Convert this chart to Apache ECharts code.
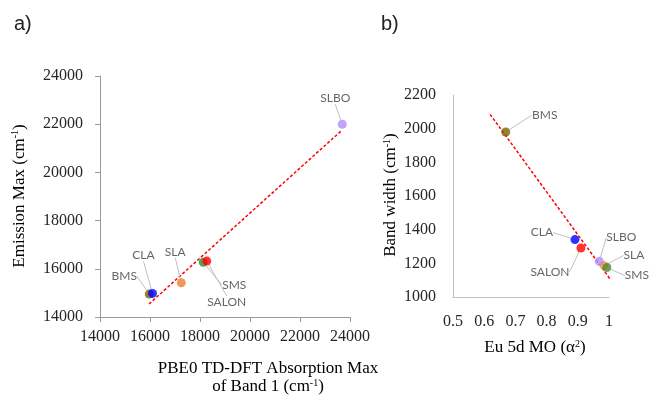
<!DOCTYPE html>
<html>
<head>
<meta charset="utf-8">
<script src="https://cdn.jsdelivr.net/npm/echarts@6/dist/echarts.min.js"></script>
<style>html,body{margin:0;padding:0;background:#fff;}#c{width:649px;height:395px;}</style>
</head>
<body>
<div id="c"></div>
<script>
// ---- data ----
const NAMES = ['BMS', 'CLA', 'SLA', 'SMS', 'SALON', 'SLBO'];
// panel a
const ABS_X = [15970, 16100, 17250, 18130, 18270, 23690];
const EMI_Y = [14950, 14980, 15420, 16270, 16320, 22000];
const TREND_A_X = [15960, 23690];
const TREND_A_Y = [14540, 21760];
// panel b
const MO_X = [0.669, 0.891, 0.984, 0.993, 0.910, 0.969];
const BW_Y = [1980, 1341, 1187, 1175, 1291, 1212];
const TREND_B_X = [0.619, 1.003];
const TREND_B_Y = [2085, 1108];
// tick values
const A_TICKS = [14000, 16000, 18000, 20000, 22000, 24000];
const B_X_TICKS = [0.5, 0.6, 0.7, 0.8, 0.9, 1];
const B_Y_TICKS = [1000, 1200, 1400, 1600, 1800, 2000, 2200];

// ---- styles ----
const COLORS_A = {BMS:'#7f6000', CLA:'#0000ff', SLA:'#ed7d31', SMS:'#2e8b2e', SALON:'#ff0000', SLBO:'#b18cf8'};
const COLORS_B = {BMS:'#7f6000', CLA:'#0000ff', SLA:'#f2a32a', SMS:'#548235', SALON:'#ff0000', SLBO:'#b18cf8'};
const OFF_A = {BMS:[-25,-18], CLA:[-9,-38], SLA:[-6,-31], SMS:[31,23], SALON:[20,41], SLBO:[-7,-26]};
const OFF_B = {BMS:[39,-17], CLA:[-33,-7], SLA:[30,-10], SMS:[30,8], SALON:[-31,24], SLBO:[22,-24]};

const serif = 'Liberation Serif, Times New Roman, serif';
const sans = 'Lato, Liberation Sans, sans-serif';
const txt = '#262626';

function pts(xs, ys, colors) {
  return NAMES.map((n, i) => ({name: n, value: [xs[i], ys[i]], itemStyle: {color: colors[n]}}));
}
function trend(xs, ys) { return xs.map((x, i) => [x, ys[i]]); }

const chart = echarts.init(document.getElementById('c'), null, {renderer: 'canvas'});

const axisLabelStyle = {fontFamily: serif, fontSize: 16, color: txt};

const option = {
  animation: false,
  grid: [
    {left: 100, top: 76, width: 250, height: 241},
    {left: 453, top: 95, width: 156, height: 202}
  ],
  xAxis: [
    {gridIndex: 0, type: 'value', min: A_TICKS[0], max: A_TICKS[A_TICKS.length-1], interval: 2000,
     axisLine: {show: true, lineStyle: {color: '#9a9a9a', width: 1}},
     axisTick: {show: true, length: 5, lineStyle: {color: '#9a9a9a'}},
     splitLine: {show: false},
     axisLabel: Object.assign({margin: 12, formatter: v => String(v)}, axisLabelStyle)},
    {gridIndex: 1, type: 'value', min: B_X_TICKS[0], max: B_X_TICKS[B_X_TICKS.length-1], interval: 0.1,
     axisLine: {show: true, onZero: false, lineStyle: {color: '#c0c0c0', width: 1}},
     axisTick: {show: false},
     splitLine: {show: false},
     axisLabel: Object.assign({margin: 17, formatter: v => String(+v.toFixed(1))}, axisLabelStyle)}
  ],
  yAxis: [
    {gridIndex: 0, type: 'value', min: A_TICKS[0], max: A_TICKS[A_TICKS.length-1], interval: 2000,
     axisLine: {show: true, lineStyle: {color: '#9a9a9a', width: 1}},
     axisTick: {show: true, length: 5, lineStyle: {color: '#9a9a9a'}},
     splitLine: {show: false},
     axisLabel: Object.assign({margin: 17, formatter: v => String(v)}, axisLabelStyle)},
    {gridIndex: 1, type: 'value', min: B_Y_TICKS[0], max: B_Y_TICKS[B_Y_TICKS.length-1], interval: 200,
     axisLine: {show: true, onZero: false, lineStyle: {color: '#c0c0c0', width: 1}},
     axisTick: {show: false},
     splitLine: {show: false},
     axisLabel: Object.assign({margin: 17, formatter: v => String(v)}, axisLabelStyle)}
  ],
  series: [
    {type: 'line', xAxisIndex: 0, yAxisIndex: 0, data: trend(TREND_A_X, TREND_A_Y), showSymbol: false, symbol: 'none',
     lineStyle: {color: '#ff0000', width: 1.5, type: [3, 2]}, z: 2, silent: true},
    {type: 'line', xAxisIndex: 1, yAxisIndex: 1, data: trend(TREND_B_X, TREND_B_Y), showSymbol: false, symbol: 'none',
     lineStyle: {color: '#ff0000', width: 1.5, type: [3, 2]}, z: 2, silent: true},
    {type: 'scatter', xAxisIndex: 0, yAxisIndex: 0, symbolSize: 9, z: 3,
     data: pts(ABS_X, EMI_Y, COLORS_A),
     label: {show: true, position: 'inside', formatter: '{b}', fontFamily: sans, fontSize: 12, color: '#404040'},
     labelLine: {show: true, length2: 0, lineStyle: {color: '#bfbfbf', width: 1}},
     labelLayout: p => { const o = OFF_A[NAMES[p.dataIndex]]; return {dx: o[0], dy: o[1]}; }},
    {type: 'scatter', xAxisIndex: 1, yAxisIndex: 1, symbolSize: 9, z: 3,
     data: pts(MO_X, BW_Y, COLORS_B),
     label: {show: true, position: 'inside', formatter: '{b}', fontFamily: sans, fontSize: 12, color: '#404040'},
     labelLine: {show: true, length2: 0, lineStyle: {color: '#bfbfbf', width: 1}},
     labelLayout: p => { const o = OFF_B[NAMES[p.dataIndex]]; return {dx: o[0], dy: o[1]}; }}
  ],
  graphic: [
    {type: 'text', left: 14, top: 14, style: {text: 'a)', font: '20px Liberation Sans, Arial, sans-serif', fill: '#222'}},
    {type: 'text', left: 381, top: 14, style: {text: 'b)', font: '20px Liberation Sans, Arial, sans-serif', fill: '#222'}},
    {type: 'text', x: 20, y: 196, rotation: Math.PI / 2,
     style: {text: '{a|Emission Max (cm}{s|-1}{a|)}', align: 'center', verticalAlign: 'middle',
       rich: {a: {fontFamily: serif, fontSize: 17, color: txt, lineHeight: 20}, s: {fontFamily: serif, fontSize: 10, color: txt, lineHeight: 20, verticalAlign: 'top', padding: [0,0,8,0]}}}},
    {type: 'text', x: 268, y: 378,
     style: {text: '{a|PBE0 TD-DFT Absorption Max}\n{a|of Band 1 (cm}{s|-1}{a|)}', align: 'center', verticalAlign: 'middle',
       rich: {a: {fontFamily: serif, fontSize: 17, color: txt, lineHeight: 18, align: 'center'}, s: {fontFamily: serif, fontSize: 10, color: txt, lineHeight: 18, padding: [0,0,8,0]}}}},
    {type: 'text', x: 391, y: 195, rotation: Math.PI / 2,
     style: {text: '{a|Band width (cm}{s|-1}{a|)}', align: 'center', verticalAlign: 'middle',
       rich: {a: {fontFamily: serif, fontSize: 17, color: txt, lineHeight: 20}, s: {fontFamily: serif, fontSize: 10, color: txt, lineHeight: 20, padding: [0,0,8,0]}}}},
    {type: 'text', x: 535, y: 348,
     style: {text: '{a|Eu 5d MO (α}{s|2}{a|)}', align: 'center', verticalAlign: 'middle',
       rich: {a: {fontFamily: serif, fontSize: 17, color: txt, lineHeight: 20}, s: {fontFamily: serif, fontSize: 10, color: txt, lineHeight: 20, padding: [0,0,8,0]}}}}
  ]
};
chart.setOption(option);
</script>
</body>
</html>
